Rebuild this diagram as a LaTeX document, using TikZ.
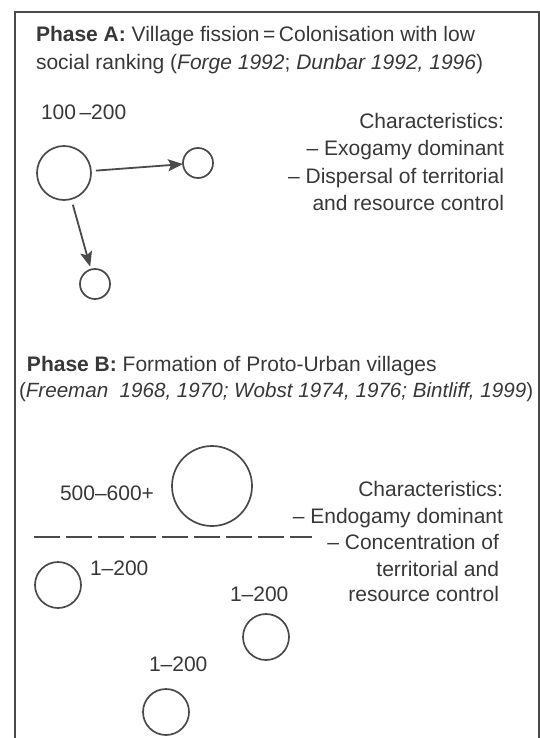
\documentclass[tikz,border=0pt]{standalone}
\usepackage{fontspec}
\setmainfont{Liberation Sans}
\usetikzlibrary{arrows.meta}
\definecolor{ink}{HTML}{383838}
\definecolor{lineink}{HTML}{4A4A4A}
\begin{document}
\begin{tikzpicture}[x=1pt,y=-1pt,
  txt/.style={inner sep=0pt, outer sep=0pt, text=ink, font=\fontsize{21}{27}\selectfont},
  village/.style={circle, draw=lineink, line width=1.7pt, inner sep=0pt, outer sep=0pt},
  move/.style={draw=lineink, line width=1.8pt, -{Stealth[length=15pt,width=12pt,inset=3pt]}},
  frame/.style={draw=lineink, line width=1.1pt},
  divider/.style={draw=lineink, line width=1.7pt, dash pattern=on 26pt off 6pt}]
\useasboundingbox (0,0) rectangle (540,738);
\fill[white] (0,0) rectangle (540,738);
\draw[frame] (15,738) -- (15,12) -- (539,12) -- (539,738);

% Phase A
\node[txt, anchor=base west] (ta1) at (36,41.5) {\textbf{Phase A:} Village fission\,=\,Colonisation with low};
\node[txt, anchor=base west] (ta2) at (36,69.5) {social ranking (\textit{Forge 1992}; \textit{Dunbar 1992, 1996})};
\node[txt, anchor=base west] (na) at (41,119.5) {100\,–200};
\node[txt, anchor=base east] (ca1) at (504,128.5) {Characteristics:};
\node[txt, anchor=base east] (ca2) at (504,155.5) {– Exogamy dominant};
\node[txt, anchor=base east] (ca3) at (504,183.5) {– Dispersal of territorial};
\node[txt, anchor=base east] (ca4) at (504,210.5) {and resource control};

\node[village, minimum size=54pt] (a0) at (64,173) {};
\node[village, minimum size=30pt] (a1) at (198,163) {};
\node[village, minimum size=30pt] (a2) at (95,284) {};
\draw[move, shorten <=5pt] (a0) -- (a1);
\draw[move, shorten <=6pt, shorten >=3pt] (a0) -- (a2);

% Phase B
\node[txt, anchor=base west] (tb1) at (27,371.5) {\textbf{Phase B:} Formation of Proto-Urban villages};
\node[txt, anchor=base west, font=\fontsize{20.6}{27}\selectfont] (tb2) at (19,397.5) {(\textit{Freeman\ \ 1968, 1970; Wobst 1974, 1976; Bintliff, 1999})};
\node[txt, anchor=base west] (nb0) at (60,500.5) {500–600+};
\node[txt, anchor=base east] (cb1) at (503,496.5) {Characteristics:};
\node[txt, anchor=base east] (cb2) at (503,523.5) {– Endogamy dominant};
\node[txt, anchor=base east] (cb3) at (499,549.5) {– Concentration of};
\node[txt, anchor=base east] (cb4) at (499,576.5) {territorial and};
\node[txt, anchor=base east] (cb5) at (499,601.5) {resource control};

\node[village, minimum size=80pt] (b0) at (212,486) {};
\coordinate (d0) at (34,537);
\coordinate (d1) at (312,537);
\draw[divider] (d0) -- (d1);

\node[village, minimum size=46pt] (b1) at (58,585) {};
\node[txt, anchor=base west] (nb1) at (90,575.5) {1–200};
\node[village, minimum size=46pt] (b2) at (266,637) {};
\node[txt, anchor=base west] (nb2) at (230,601.5) {1–200};
\node[village, minimum size=46pt] (b3) at (166,712) {};
\node[txt, anchor=base west] (nb3) at (149,671.5) {1–200};
\end{tikzpicture}
\end{document}
